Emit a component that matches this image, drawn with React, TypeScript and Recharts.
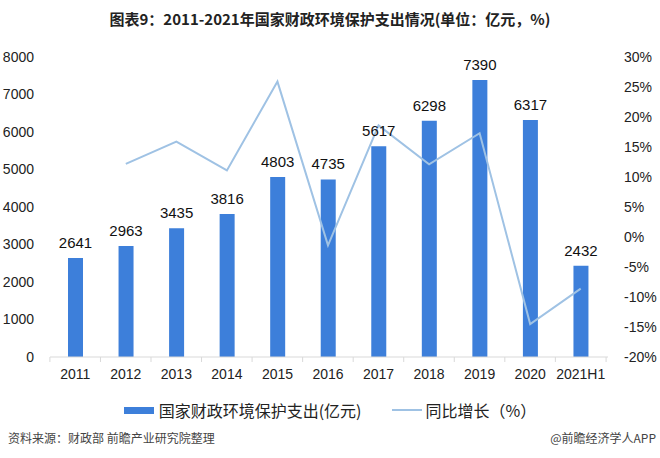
import { ComposedChart, Bar, Line, XAxis, YAxis, LabelList } from 'recharts';

const years = ['2011', '2012', '2013', '2014', '2015', '2016', '2017', '2018', '2019', '2020', '2021H1'];
const spending = [2641, 2963, 3435, 3816, 4803, 4735, 5617, 6298, 7390, 6317, 2432];
const growth = [null, 12.2, 15.9, 11.1, 25.9, -1.4, 18.6, 12.1, 17.3, -14.5, -8.6];
const leftTicks = [0, 1000, 2000, 3000, 4000, 5000, 6000, 7000, 8000];
const rightTicks = [-20, -15, -10, -5, 0, 5, 10, 15, 20, 25, 30];

const BAR_COLOR = '#3d7fda';
const LINE_COLOR = '#9fc2e4';
const NUM_FONT = '"Liberation Sans", Arial, sans-serif';
const CJK_FONT = '"Noto Sans CJK SC", sans-serif';

const data = years.map((year, i) => ({ year, spending: spending[i], growth: growth[i] }));

const BAND = 558 / years.length;

function XTick(props: any) {
  const { x, y, payload, index } = props;
  const last = index === years.length - 1;
  return (
    <g>
      <line x1={x - BAND / 2} x2={x - BAND / 2} y1={y - 8} y2={y - 3} stroke="#d9d9d9" />
      {last && <line x1={x + BAND / 2} x2={x + BAND / 2} y1={y - 8} y2={y - 3} stroke="#d9d9d9" />}
      <text x={x} y={y + 14} textAnchor="middle" fontSize={14} fill="#222" fontFamily={NUM_FONT}>
        {payload.value}
      </text>
    </g>
  );
}

export default function App() {
  return (
    <div style={{ position: 'absolute', left: 0, top: 0, width: 660, height: 458, background: '#fff' }}>
      <div
        style={{
          position: 'absolute', top: 8, left: 0, width: 660, textAlign: 'center',
          fontFamily: CJK_FONT, fontWeight: 'bold', fontSize: 15, color: '#222',
        }}
      >
        图表9：2011-2021年国家财政环境保护支出情况(单位：亿元，%)
      </div>
      <ComposedChart
        width={660}
        height={458}
        data={data}
        margin={{ top: 57, right: 0, left: 0, bottom: 71 }}
      >
        <XAxis
          dataKey="year"
          stroke="#d9d9d9"
          tickLine={false}
          tick={<XTick />}
          height={30}
          interval={0}
          padding={{ left: 0, right: 2 }}
        />
        <YAxis
          yAxisId="left"
          domain={[0, 8000]}
          ticks={leftTicks}
          width={50}
          axisLine={false}
          tickLine={false}
          tick={{ fontSize: 14, fill: '#222', fontFamily: NUM_FONT }}
          tickMargin={10}
        />
        <YAxis
          yAxisId="right"
          orientation="right"
          domain={[-20, 30]}
          ticks={rightTicks}
          width={52}
          axisLine={false}
          tickLine={false}
          tickFormatter={(v: number) => `${v}%`}
          tick={{ fontSize: 14, fill: '#222', fontFamily: NUM_FONT }}
          tickMargin={10}
        />
        <Bar yAxisId="left" dataKey="spending" fill={BAR_COLOR} barSize={15} isAnimationActive={false}>
          <LabelList
            dataKey="spending"
            position="top"
            offset={10}
            style={{ fontSize: 15, fill: '#111', fontFamily: NUM_FONT }}
          />
        </Bar>
        <Line
          yAxisId="right"
          dataKey="growth"
          stroke={LINE_COLOR}
          strokeWidth={2}
          dot={false}
          type="linear"
          isAnimationActive={false}
        />
      </ComposedChart>
      <div
        style={{
          position: 'absolute', top: 398, left: 0, width: 660, display: 'flex',
          justifyContent: 'center', alignItems: 'center', fontFamily: CJK_FONT, fontSize: 16, color: '#222',
        }}
      >
        <span style={{ display: 'inline-block', width: 30, height: 7, background: BAR_COLOR, marginRight: 5 }} />
        <span>国家财政环境保护支出(亿元)</span>
        <span style={{ display: 'inline-block', width: 30, height: 2, background: LINE_COLOR, marginLeft: 30, marginRight: 4 }} />
        <span>同比增长（%）</span>
      </div>
      <div
        style={{
          position: 'absolute', top: 429, left: 8, fontFamily: CJK_FONT, fontSize: 12, color: '#444',
        }}
      >
        资料来源：财政部 前瞻产业研究院整理
      </div>
      <div
        style={{
          position: 'absolute', top: 429, right: 4, fontFamily: CJK_FONT, fontSize: 12, color: '#444',
        }}
      >
        @前瞻经济学人APP
      </div>
    </div>
  );
}
